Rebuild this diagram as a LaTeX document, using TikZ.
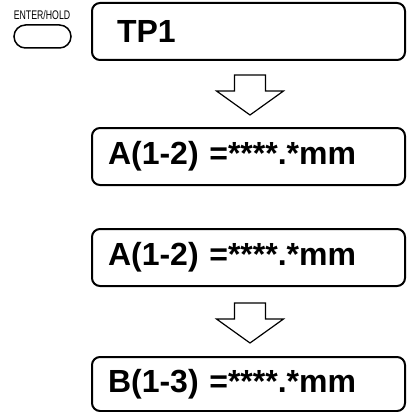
\documentclass[tikz,border=0pt]{standalone}
\usepackage{fontspec}
\setmainfont{Liberation Sans}
\newfontfamily\keyfont[FakeStretch=0.7]{Liberation Sans}
\usepackage{tikz}
\usetikzlibrary{positioning}

\tikzset{downarrow/.pic={
  \draw[line width=1.2pt,line join=miter]
    (-15.5,0) -- (15.5,0) -- (15.5,16) -- (33.5,16) -- (0,40)
    -- (-33.5,16) -- (-15.5,16) -- cycle;}}

\begin{document}
\begin{tikzpicture}[x=1pt,y=-1pt,
  disp/.style={draw,line width=2pt,rounded corners=8pt,minimum width=313pt,
               minimum height=57pt,inner xsep=16pt,text width=281pt,align=left,
               font=\fontsize{32}{36}\selectfont\bfseries},
  key/.style={draw,line width=1.5pt,rounded corners=11.5pt,minimum width=57pt,
              minimum height=23pt}]
\useasboundingbox (0,0) rectangle (407,412);

\node[disp,inner xsep=25pt,text width=263pt] (tp) at (248.5,31.5) {TP1};
\node[disp] (a1) at (248.5,156.5) {A(1-2) =****.*mm};
\node[disp] (a2) at (248.5,257.5) {A(1-2) =****.*mm};
\node[disp,minimum height=54pt] (b) at (248.5,384) {B(1-3) =****.*mm};

\node[key] (btn) at (42.5,36.5) {};
\node[font=\keyfont\fontsize{12.5}{13}\selectfont,inner sep=0pt] (btnlbl)
  at (42,15.5) {ENTER/HOLD};

\pic at (250,75) {downarrow};
\pic at (250,303) {downarrow};
\end{tikzpicture}
\end{document}
